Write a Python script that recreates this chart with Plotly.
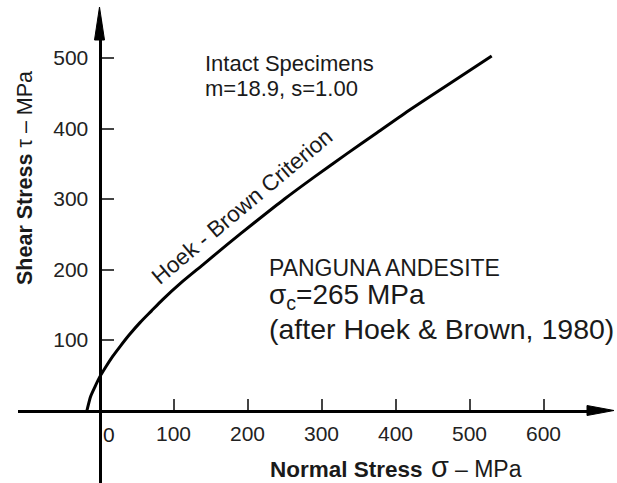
import plotly.graph_objects as go

# ---- data (Hoek-Brown envelope, MPa) ----
sigma = [-17, -12, -6, 0, 8, 18, 28, 40, 55, 70, 85, 110, 140, 172,
         210, 250, 290, 334, 375, 420, 475, 530]
tau = [0, 20, 34, 47, 61, 77, 91, 107, 125, 141, 157, 181, 207, 235,
       267, 300, 331, 364, 394, 427, 465, 503]
x_tick_vals = [100, 200, 300, 400, 500, 600]
y_tick_vals = [100, 200, 300, 400, 500]

# ---- page geometry (pixels) ----
W, H = 617, 483
X0, XS = 99.5, 0.74     # pixel of sigma=0, px per MPa
Y0, YS = 410.5, 0.705   # pixel of tau=0, px per MPa
XL, XR = 18, 600        # x-axis line extent
YT = 20                 # y-axis line top

def PX(x):
    return x / W

def PY(y):
    return 1 - y / H

FONT = "Liberation Sans, Arial, sans-serif"
TXT = "#1a1a1a"

fig = go.Figure()
fig.add_trace(go.Scatter(
    x=sigma, y=tau, mode="lines",
    line=dict(color="black", width=3, shape="spline", smoothing=0.6),
    hoverinfo="skip", showlegend=False,
))

x_range = [(XL - X0) / XS, (XR - X0) / XS]
y_range = [(Y0 - H) / YS, (Y0 - YT) / YS]

fig.update_layout(
    width=W, height=H,
    margin=dict(l=0, r=0, t=0, b=0),
    paper_bgcolor="white", plot_bgcolor="rgba(0,0,0,0)",
    font=dict(family=FONT, color=TXT, size=21),
    xaxis=dict(
        domain=[PX(XL), PX(XR)], range=x_range,
        anchor="free", position=PY(Y0),
        showgrid=False, zeroline=False,
        showline=True, linecolor="black", linewidth=3,
        ticks="inside", ticklen=11, tickwidth=2, tickcolor="#444",
        tickvals=x_tick_vals, ticktext=[str(v) for v in x_tick_vals],
        tickfont=dict(size=21, color="#222", family=FONT),
        ticklabelstandoff=3,
        fixedrange=True,
    ),
    yaxis=dict(
        domain=[0, PY(YT)], range=y_range,
        anchor="free", position=PX(X0),
        showgrid=False, zeroline=False,
        showline=True, linecolor="black", linewidth=3,
        ticks="inside", ticklen=12, tickwidth=2, tickcolor="#444",
        tickvals=y_tick_vals, ticktext=[str(v) for v in y_tick_vals],
        tickfont=dict(size=21, color="#222", family=FONT),
        ticklabelstandoff=6,
        fixedrange=True,
    ),
)

# arrowheads on the axes
fig.add_shape(type="path", xref="paper", yref="paper",
              path=f"M {PX(614)},{PY(Y0)} L {PX(587)},{PY(Y0 - 5)} L {PX(587)},{PY(Y0 + 5)} Z",
              fillcolor="black", line=dict(color="black", width=1))
fig.add_shape(type="path", xref="paper", yref="paper",
              path=f"M {PX(X0)},{PY(7)} L {PX(X0 - 5)},{PY(40)} L {PX(X0 + 5)},{PY(40)} Z",
              fillcolor="black", line=dict(color="black", width=1))

def note(text, x, y, size, xanchor="left", yanchor="middle", angle=0):
    fig.add_annotation(text=text, xref="paper", yref="paper",
                       x=PX(x), y=PY(y), xanchor=xanchor, yanchor=yanchor,
                       textangle=angle, showarrow=False,
                       font=dict(size=size, color=TXT, family=FONT))

note("0", 109, 434, 21, xanchor="center")
note("Intact Specimens", 203, 63, 22)
note("m=18.9, s=1.00", 203, 89, 22)
note("Hoek - Brown Criterion", 242, 206, 22.5, xanchor="center", angle=-40)
note("PANGUNA ANDESITE", 267, 268, 23)
note("σ<sub>c</sub>=265 MPa", 267, 296.5, 28)
note("(after Hoek &amp; Brown, 1980)", 267, 329, 28.5)
note("<b>Normal Stress</b>", 268, 469, 22.5)
note("σ", 440, 467, 29, xanchor="center")
note("– MPa", 453, 469, 23)
note("<b>Shear Stress</b> τ – MPa", 25, 178, 21.5, xanchor="center", angle=-90)

fig.write_html("out.html")
